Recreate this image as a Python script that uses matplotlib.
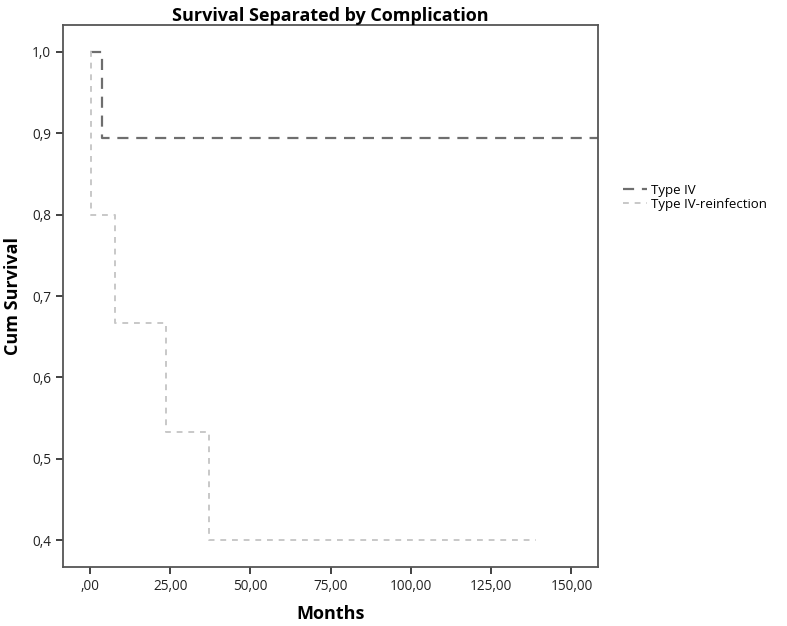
import numpy as np
import matplotlib.pyplot as plt

plt.rcParams['font.family'] = ['Open Sans', 'DejaVu Sans']

# Kaplan-Meier step data
type4_t = [0.0, 3.7, 158.3]
type4_s = [1.0, 0.8947, 0.8947]
reinf_t = [0.0, 0.3, 7.8, 23.7, 37.1, 139.0]
reinf_s = [1.0, 0.8, 0.6667, 0.5333, 0.4, 0.4]

xticks = [0, 25, 50, 75, 100, 125, 150]
xtick_labels = [",00", "25,00", "50,00", "75,00", "100,00", "125,00", "150,00"]
yticks = [0.4, 0.5, 0.6, 0.7, 0.8, 0.9, 1.0]
ytick_labels = ["0,4", "0,5", "0,6", "0,7", "0,8", "0,9", "1,0"]

fig = plt.figure(figsize=(7.87, 6.26), dpi=100)
ax = fig.add_axes([0.080, 0.094, 0.680, 0.866])

ax.step(type4_t, type4_s, where="post", color="#6e6e6e", lw=1.6,
        dashes=(5, 3.5), label="Type IV")
ax.step(reinf_t, reinf_s, where="post", color="#c8c8c8", lw=1.4,
        dashes=(3, 3), label="Type IV-reinfection")

ax.set_xlim(-8.4, 158.3)
ax.set_ylim(0.367, 1.033)
ax.set_xticks(xticks)
ax.set_xticklabels(xtick_labels)
ax.set_yticks(yticks)
ax.set_yticklabels(ytick_labels)
ax.tick_params(direction="out", length=5, width=1.3, colors="#333333",
               labelsize=9.8, labelcolor="#222222")
for s in ax.spines.values():
    s.set_color("#555555")
    s.set_linewidth(1.3)

ax.set_xlabel("Months", fontsize=13, fontweight="bold", labelpad=8)
ax.set_ylabel("Cum Survival", fontsize=13, fontweight="bold", labelpad=7)
ax.set_title("Survival Separated by Complication", fontsize=13,
             fontweight="bold", pad=3)

fig.legend(loc="upper left", bbox_to_anchor=(0.785, 0.715), frameon=False,
           fontsize=9.5, handlelength=1.8, handletextpad=0.3, labelspacing=0.1,
           borderaxespad=0)

fig.savefig("out.png", dpi=100, facecolor="white")
